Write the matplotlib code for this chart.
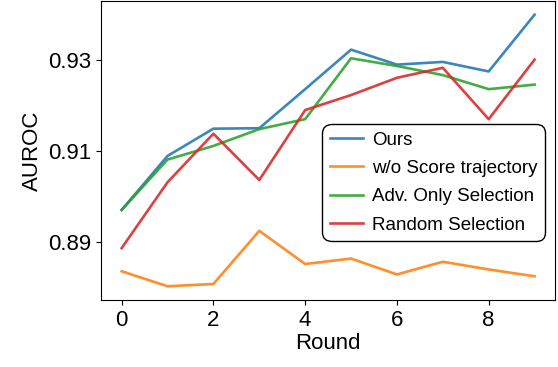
import matplotlib
matplotlib.use("Agg")
import matplotlib.pyplot as plt

plt.rcParams['font.family'] = ['Liberation Sans', 'DejaVu Sans']

rounds = list(range(10))
ours = [0.8970, 0.9089, 0.9149, 0.9150, 0.9236, 0.9323, 0.9290, 0.9296, 0.9275, 0.9400]
wo_score = [0.8835, 0.8802, 0.8807, 0.8924, 0.8851, 0.8863, 0.8828, 0.8856, 0.8839, 0.8824]
adv_only = [0.8970, 0.9081, 0.9111, 0.9148, 0.9170, 0.9304, 0.9287, 0.9267, 0.9236, 0.9246]
random_sel = [0.8886, 0.9031, 0.9138, 0.9036, 0.9190, 0.9223, 0.9261, 0.9283, 0.9170, 0.9301]

labels = ["Ours", "w/o Score trajectory", "Adv. Only Selection", "Random Selection"]

fig = plt.figure(figsize=(5.58, 3.67), dpi=100)
ax = fig.add_axes([0.181, 0.183, 0.814, 0.814])

for ys, lab in zip([ours, wo_score, adv_only, random_sel], labels):
    ax.plot(rounds, ys, label=lab, linewidth=1.9, alpha=0.88)

ax.set_xticks([0, 2, 4, 6, 8])
ax.set_yticks([0.89, 0.91, 0.93])
ax.tick_params(labelsize=16)
ax.set_xlabel("Round", fontsize=16, labelpad=2)
ax.set_ylabel("AUROC", fontsize=16)

leg = ax.legend(loc='upper left', bbox_to_anchor=(0.487, 0.589), borderaxespad=0,
                fontsize=13.5, frameon=True, fancybox=True, framealpha=1,
                handlelength=1.8, handletextpad=0.45, labelspacing=0.6)
leg.get_frame().set_edgecolor('black')
leg.get_frame().set_boxstyle("round", pad=0, rounding_size=0.5)

fig.savefig("out.png", dpi=100)
